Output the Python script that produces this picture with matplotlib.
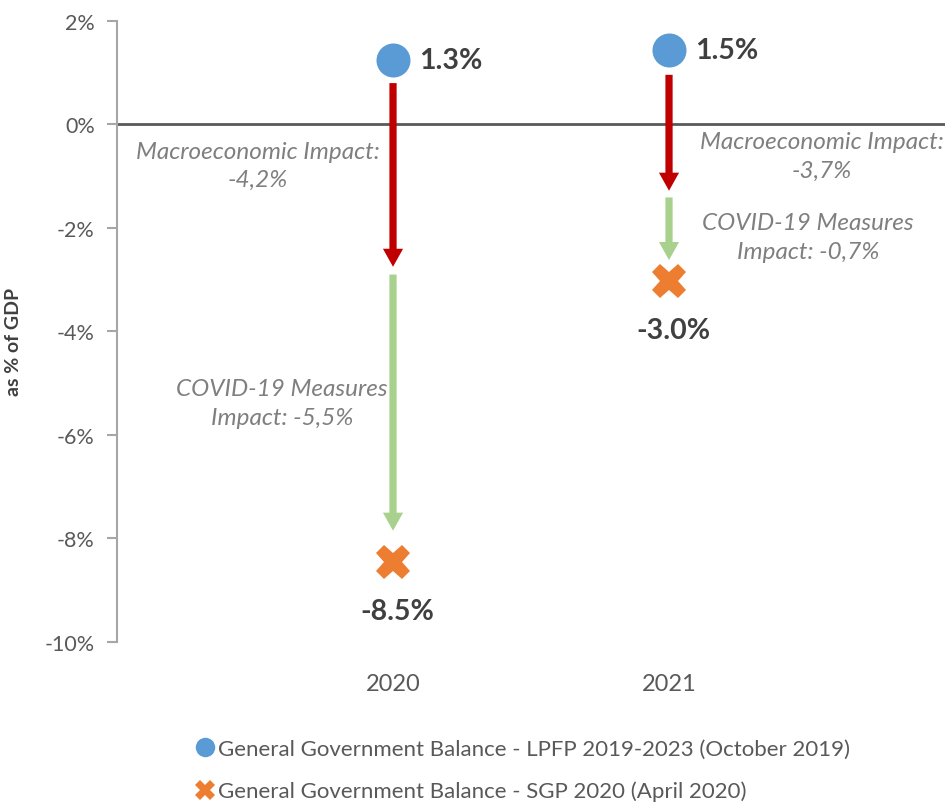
import matplotlib
matplotlib.use("Agg")
import matplotlib.pyplot as plt
from matplotlib.lines import Line2D

plt.rcParams['font.family'] = ['Lato', 'DejaVu Sans']

# data
years = ["2020", "2021"]
lpfp = [1.25, 1.43]          # General Government Balance - LPFP (Oct 2019)
sgp = [-8.45, -3.02]         # General Government Balance - SGP 2020 (Apr 2020)
lpfp_labels = ["1.3%", "1.5%"]
sgp_labels = ["-8.5%", "-3.0%"]

macro_start = [0.80, 0.96]
macro_end = [-2.75, -1.28]
covid_start = [-2.90, -1.41]
covid_end = [-7.85, -2.62]
macro_text = ["Macroeconomic Impact:\n-4,2%", "Macroeconomic Impact:\n-3,7%"]
covid_text = ["COVID-19 Measures\nImpact: -5,5%", "COVID-19 Measures\nImpact: -0,7%"]

yticks = [2, 0, -2, -4, -6, -8, -10]

blue = "#5B9BD5"
orange = "#ED7D31"
red = "#C00000"
green = "#A9D18E"

fig = plt.figure(figsize=(9.49, 8.03), dpi=100)
ax = fig.add_axes([0.1233, 0.1993, 0.8725, 0.7733])

xs = [1, 2]

# zero line
ax.axhline(0, color="#595959", lw=2, zorder=1)

# arrows
arrow_style = "simple,head_width=1.45,head_length=1.3,tail_width=0.52"
for i, x in enumerate(xs):
    ax.annotate("", xy=(x, macro_end[i]), xytext=(x, macro_start[i]),
                arrowprops=dict(arrowstyle=arrow_style, color=red, lw=0,
                                shrinkA=0, shrinkB=0, mutation_scale=10), zorder=2)
    ax.annotate("", xy=(x, covid_end[i]), xytext=(x, covid_start[i]),
                arrowprops=dict(arrowstyle=arrow_style, color=green, lw=0,
                                shrinkA=0, shrinkB=0, mutation_scale=10), zorder=2)

# markers
ax.plot(xs, lpfp, linestyle="none", marker="o", markersize=24.5,
        color=blue, markeredgewidth=0, zorder=3)
ax.plot(xs, sgp, linestyle="none", marker="X", markersize=25,
        color=orange, markeredgewidth=0, zorder=3)

# data labels
for i, x in enumerate(xs):
    ax.annotate(lpfp_labels[i], (x, lpfp[i]), xytext=(19, 0), textcoords="offset points",
                ha="left", va="center", fontsize=20.5, fontweight="bold", color="#404040")
    ax.annotate(sgp_labels[i], (x, sgp[i]), xytext=(3, -35.5), textcoords="offset points",
                ha="center", va="center", fontsize=20.5, fontweight="bold", color="#404040")

# impact annotations
macro_pos = [(0.511, -0.79), (2.554, -0.60)]
covid_pos = [(0.598, -5.38), (2.504, -2.18)]
for i in range(2):
    ax.text(*macro_pos[i], macro_text[i], ha="center", va="center", fontsize=17.5,
            style="italic", color="#7F7F7F", linespacing=1.45)
    ax.text(*covid_pos[i], covid_text[i], ha="center", va="center", fontsize=17.5,
            style="italic", color="#7F7F7F", linespacing=1.45)

ax.set_xlim(0, 3)
ax.set_ylim(-10, 2)
ax.set_yticks(yticks)
ax.set_yticklabels([f"{t}%" for t in yticks])
ax.set_xticks(xs)
ax.set_xticklabels(years)
ax.tick_params(axis="y", colors="#A6A6A6", labelcolor="#595959", labelsize=15.5,
               length=7, width=1.5, pad=9)
ax.tick_params(axis="x", length=0, labelcolor="#595959", labelsize=17, pad=22)

for s in ["top", "right", "bottom"]:
    ax.spines[s].set_visible(False)
ax.spines["left"].set_color("#A6A6A6")
ax.spines["left"].set_linewidth(1.5)

ax.set_ylabel("as % of GDP", fontsize=14, fontweight="bold", color="#404040")
ax.yaxis.set_label_coords(-0.1147, 0.485)

handles = [
    Line2D([], [], linestyle="none", marker="o", markersize=14, color=blue, markeredgewidth=0),
    Line2D([], [], linestyle="none", marker="X", markersize=14, color=orange, markeredgewidth=0),
]
names = ["General Government Balance - LPFP 2019-2023 (October 2019)",
         "General Government Balance - SGP 2020 (April 2020)"]
leg = fig.legend(handles, names, loc="upper left", bbox_to_anchor=(0.197, 0.09),
                 frameon=False, fontsize=16, handlelength=0.8, handletextpad=0.2,
                 labelspacing=1.0, borderaxespad=0)
for t in leg.get_texts():
    t.set_color("#595959")

fig.savefig("out.png", dpi=100)
